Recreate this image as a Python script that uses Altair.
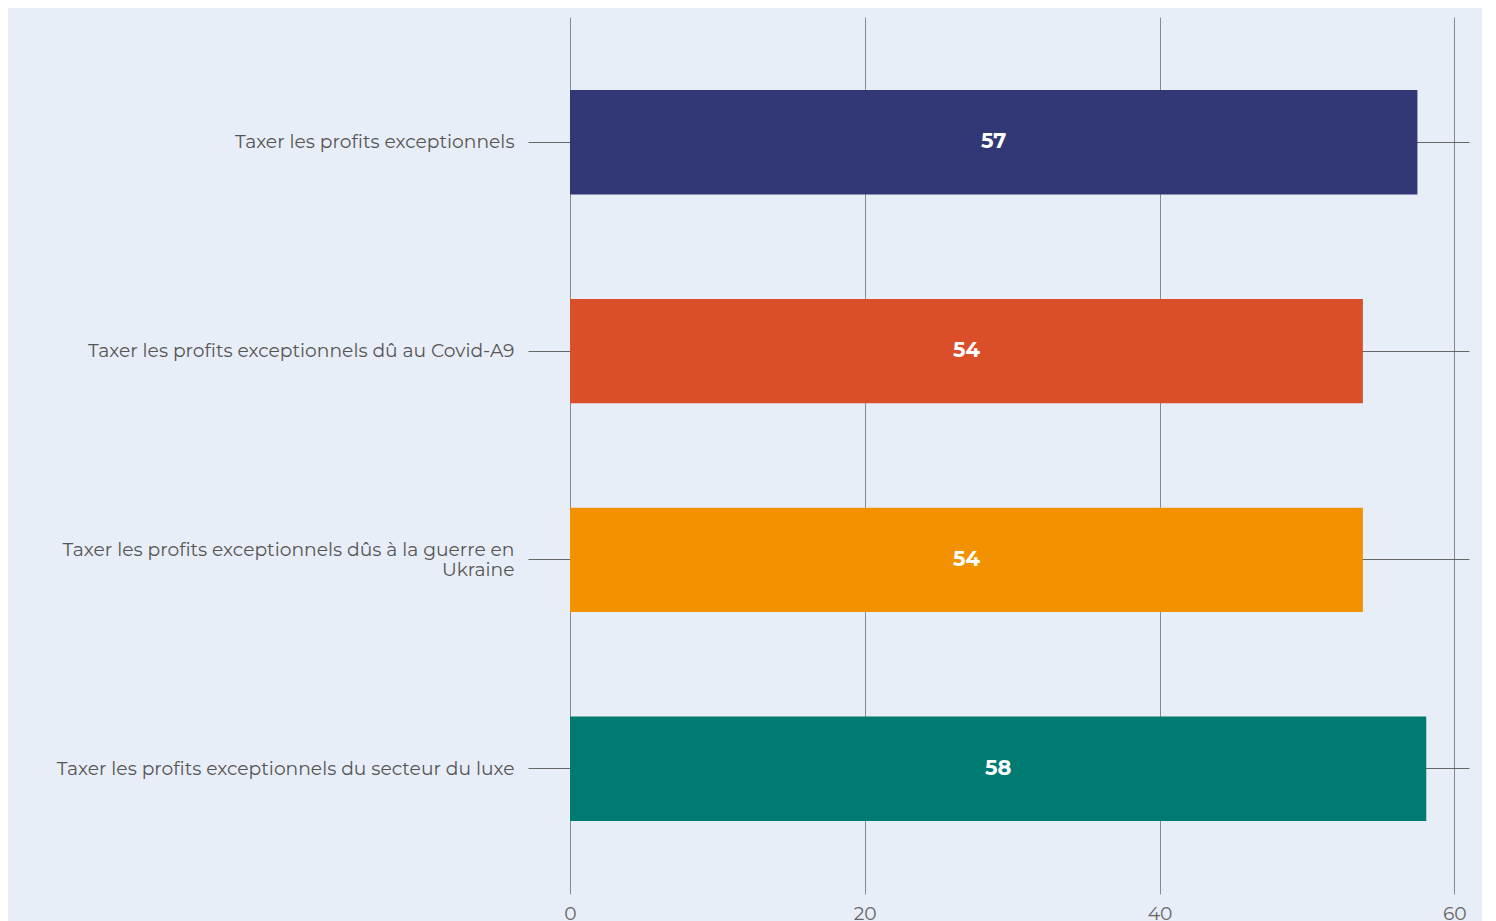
import altair as alt
import pandas as pd

categories = [
    "Taxer les profits exceptionnels",
    "Taxer les profits exceptionnels dû au Covid-A9",
    "Taxer les profits exceptionnels dûs à la guerre en|Ukraine",
    "Taxer les profits exceptionnels du secteur du luxe",
]
values = [57.5, 53.8, 53.8, 58.1]
value_labels = ["57", "54", "54", "58"]
bar_colors = ["#323876", "#da4e29", "#f39200", "#007b71"]
x_ticks = [0, 20, 40, 60]

df = pd.DataFrame({"cat": categories, "value": values, "label": value_labels})

FONT = "Montserrat, Open Sans"
BG = "#e8eef7"

y_enc = alt.Y(
    "cat:N",
    sort=categories,
    title=None,
    scale=alt.Scale(paddingInner=0.5, paddingOuter=0.35),
    axis=alt.Axis(
        labelExpr="split(datum.label, '|')",
        labelFont=FONT,
        labelFontSize=18.7,
        labelColor="#555555",
        labelPadding=14,
        labelLimit=600,
        labelLineHeight=20,
        labelOffset={"condition": {"test": "indexof(datum.label, '|') >= 0", "value": -10}, "value": 0},
        tickSize=42,
        tickColor="#666666",
        tickWidth=1,
        grid=True,
        gridColor="#666666",
        gridWidth=1,
        domain=False,
    ),
)

bars = alt.Chart(df).mark_bar().encode(
    x=alt.X(
        "value:Q",
        title=None,
        scale=alt.Scale(domain=[0, 61], nice=False),
        axis=alt.Axis(
            values=x_ticks,
            labelFont=FONT,
            labelFontSize=18.7,
            labelColor="#666666",
            labelPadding=10,
            labelFlush=False,
            ticks=False,
            domain=False,
            grid=True,
            gridColor="#8a8a8a",
            gridWidth=1,
        ),
    ),
    y=y_enc,
    color=alt.Color(
        "cat:N",
        scale=alt.Scale(domain=categories, range=bar_colors),
        legend=None,
    ),
)

text = alt.Chart(df).transform_calculate(mid="datum.value / 2").mark_text(
    font=FONT,
    fontSize=21,
    fontWeight="bold",
    color="white",
    baseline="middle",
    align="center",
).encode(
    x=alt.X("mid:Q"),
    y=alt.Y("cat:N", sort=categories),
    text="label:N",
)

chart = (
    alt.layer(bars, text)
    .properties(
        width=899,
        height=877,
        background=BG,
        padding={"left": 562, "top": 9, "right": 13, "bottom": 30},
        autosize=alt.AutoSizeParams(type="none"),
    )
    .configure_view(stroke=None, fill=BG)
)

chart.save("out.html", embed_options={"renderer": "svg", "actions": False})
